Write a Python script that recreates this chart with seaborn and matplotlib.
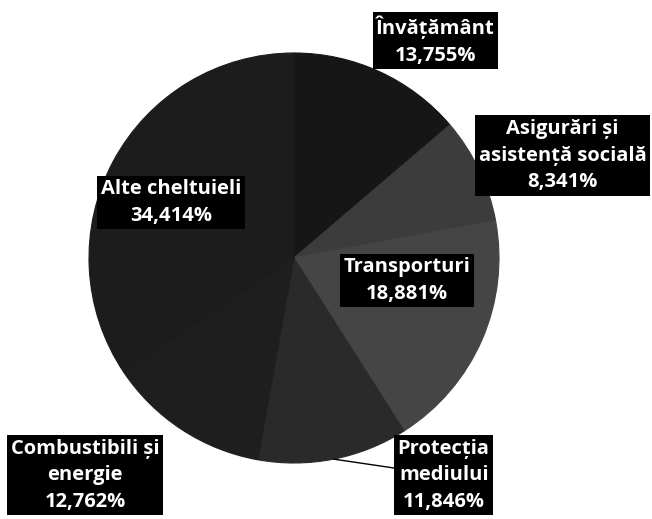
import numpy as np
import matplotlib
matplotlib.use("Agg")
import matplotlib.pyplot as plt
import seaborn as sns

# data (shares of spending, %)
categories = ["Învățământ", "Asigurări și\nasistență socială", "Transporturi",
              "Protecția\nmediului", "Combustibili și\nenergie", "Alte cheltuieli"]
shares = [13.755, 8.341, 18.881, 11.846, 12.762, 34.414]
share_labels = ["13,755%", "8,341%", "18,881%", "11,846%", "12,762%", "34,414%"]

# grey shades as in the scanned original
greys = ["#161616", "#3c3c3c", "#454545", "#2a2a2a", "#1e1e1e", "#1c1c1c"]

# where each label box sits (pie radius = 1)
label_pos = [(0.69, 1.06), (1.31, 0.50), (0.55, -0.11),
             (0.73, -1.06), (-1.02, -1.06), (-0.60, 0.27)]

sns.set_theme(style="white")
plt.rcParams['font.family'] = ['Open Sans', 'DejaVu Sans']

fig = plt.figure(figsize=(6.52, 5.19), dpi=100)
ax = fig.add_axes([0, 0, 1, 1])

wedges, _ = ax.pie(shares, colors=greys, startangle=90, counterclock=False,
                   radius=1.0, wedgeprops=dict(linewidth=0.8))
for w in wedges:
    w.set_edgecolor(w.get_facecolor())

for i, w in enumerate(wedges):
    txt = categories[i] + "\n" + share_labels[i]
    box = dict(facecolor="black", edgecolor="none", pad=2.5)
    if i == 3:
        # leader line from the slice edge to the label
        mid = np.deg2rad((w.theta1 + w.theta2) / 2)
        edge = (np.cos(mid), np.sin(mid))
        ax.annotate(txt, xy=edge, xytext=label_pos[i], ha="center", va="center",
                    color="white", fontsize=14.5, fontweight="bold",
                    linespacing=1.45, bbox=box,
                    arrowprops=dict(arrowstyle="-", color="black", lw=1,
                                    shrinkA=0, shrinkB=0))
    else:
        ax.text(label_pos[i][0], label_pos[i][1], txt, ha="center", va="center",
                color="white", fontsize=14.5, fontweight="bold",
                linespacing=1.45, bbox=box)

# place the pie like in the original (centre ~ (294, 258) px, radius ~205 px)
ax.set_xlim(-294 / 205, (652 - 294) / 205)
ax.set_ylim(-(519 - 258) / 205, 258 / 205)
ax.set_aspect("equal")
ax.axis("off")

fig.savefig("out.png", dpi=100, facecolor="white")
